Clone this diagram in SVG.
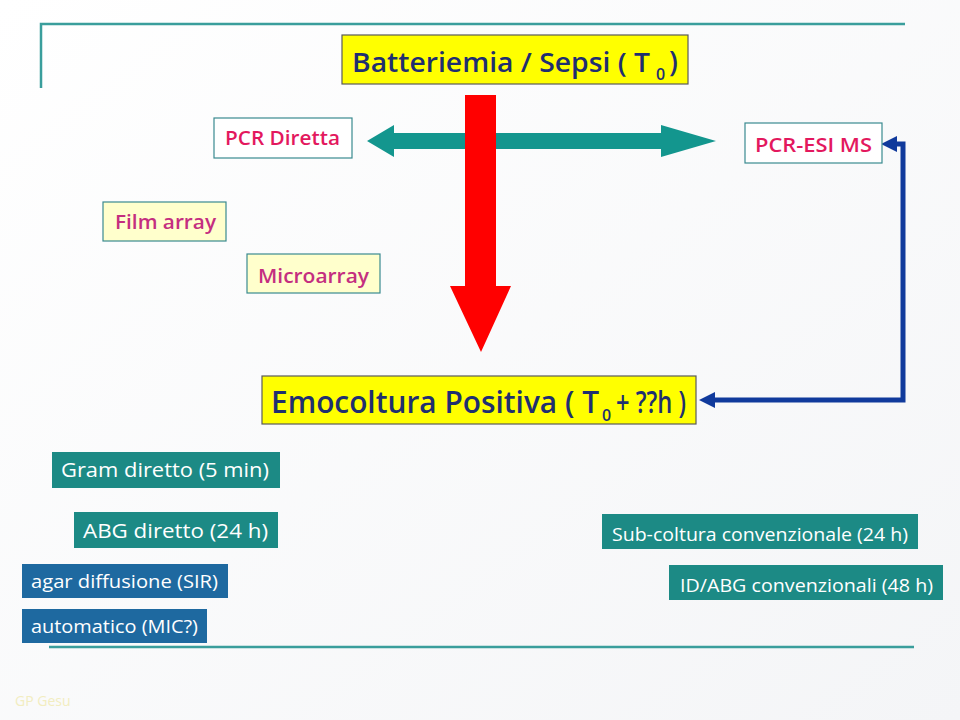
<svg xmlns="http://www.w3.org/2000/svg" width="960" height="720" viewBox="0 0 960 720">
<defs>
<linearGradient id="bg" x1="0" y1="0" x2="1" y2="1">
<stop offset="0" stop-color="#ffffff"/>
<stop offset="1" stop-color="#f4f5f7"/>
</linearGradient>
<marker id="blueHead" viewBox="0 0 10 10" refX="0" refY="5" markerWidth="18" markerHeight="16" markerUnits="userSpaceOnUse" orient="auto-start-reverse">
<path d="M0,0 L10,5 L0,10 z" fill="#103a9c"/>
</marker>
</defs>
<style>
.title{font-family:"Open Sans","Liberation Sans",sans-serif;font-weight:600;fill:#1f2f70}
.ybox{fill:#ffff00;stroke:#5a5a5a;stroke-width:1.2}
.wbox{fill:#ffffff;stroke:#3a8a90;stroke-width:1.2}
.lybox{fill:#ffffcc;stroke:#3a8a90;stroke-width:1.2}
.pink{font-family:"Open Sans","Liberation Sans",sans-serif;font-weight:600;font-size:20px;fill:#e3185e}
.mag{font-family:"Open Sans","Liberation Sans",sans-serif;font-weight:600;font-size:20px;fill:#c42e80}
.tbox{fill:#1c8a85}
.bbox{fill:#1e69a0}
.wt{font-family:"Open Sans","Liberation Sans",sans-serif;font-weight:500;font-size:20px;fill:#ffffff}
.wts{font-family:"Open Sans","Liberation Sans",sans-serif;font-weight:500;font-size:18px;fill:#ffffff}
.rule{stroke:#3a9e9c;stroke-width:2.5;fill:none}
</style>
<rect width="960" height="720" fill="url(#bg)"/>
<g id="frame">
<path class="rule" d="M41,88 V24 H905"/>
<line class="rule" x1="49" y1="647" x2="914" y2="647"/>
<text x="15" y="706" font-family="Open Sans, Liberation Sans, sans-serif" font-size="14" fill="#f2edc0">GP Gesu</text>
</g>
<g id="connectors">
<polygon id="teal-double-arrow" fill="#13968e" points="367,141 394,125 394,133 661,133 661,125 716,141 661,157 661,149 394,149 394,157"/>
<polygon id="red-arrow" fill="#ff0000" points="465,95 496,95 496,286 511,286 481,352 450,286 465,286"/>
<path id="blue-connector" d="M897,144 H903 V400 H715" fill="none" stroke="#103a9c" stroke-width="5" marker-start="url(#blueHead)" marker-end="url(#blueHead)"/>
</g>
<g id="node-batteriemia">
<rect class="ybox" x="342" y="35" width="346" height="49"/>
<text class="title" x="352" y="72" font-size="27" textLength="298" lengthAdjust="spacingAndGlyphs">Batteriemia / Sepsi ( T</text>
<text class="title" x="656" y="80" font-size="16">0</text>
<text class="title" x="669" y="72" font-size="28">)</text>
</g>
<g id="node-pcr-diretta">
<rect class="wbox" x="214" y="118" width="138" height="40"/>
<text class="pink" x="225" y="145" textLength="115" lengthAdjust="spacingAndGlyphs">PCR Diretta</text>
</g>
<g id="node-pcr-esi">
<rect class="wbox" x="745" y="123" width="137" height="40"/>
<text class="pink" x="755" y="152" textLength="117" lengthAdjust="spacingAndGlyphs">PCR-ESI MS</text>
</g>
<g id="node-film-array">
<rect class="lybox" x="103" y="202" width="123" height="39"/>
<text class="mag" x="115" y="229" textLength="101" lengthAdjust="spacingAndGlyphs">Film array</text>
</g>
<g id="node-microarray">
<rect class="lybox" x="247" y="254" width="133" height="39"/>
<text class="mag" x="258" y="283" textLength="111" lengthAdjust="spacingAndGlyphs">Microarray</text>
</g>
<g id="node-emocoltura">
<rect class="ybox" x="262" y="376" width="434" height="48"/>
<text class="title" x="271" y="413" font-size="30" textLength="328" lengthAdjust="spacingAndGlyphs">Emocoltura Positiva ( T</text>
<text class="title" x="602" y="421" font-size="16">0</text>
<text class="title" x="616" y="413" font-size="30" textLength="70" lengthAdjust="spacingAndGlyphs">+ ??h )</text>
</g>
<g id="node-gram">
<rect class="tbox" x="52" y="452" width="228" height="36"/>
<text class="wt" x="61" y="477" textLength="208" lengthAdjust="spacingAndGlyphs">Gram diretto (5 min)</text>
</g>
<g id="node-abg-diretto">
<rect class="tbox" x="74" y="512" width="204" height="36"/>
<text class="wt" x="83" y="538" textLength="185" lengthAdjust="spacingAndGlyphs">ABG diretto (24 h)</text>
</g>
<g id="node-agar">
<rect class="bbox" x="22" y="564" width="206" height="34"/>
<text class="wts" x="31" y="588" textLength="187" lengthAdjust="spacingAndGlyphs">agar diffusione (SIR)</text>
</g>
<g id="node-automatico">
<rect class="bbox" x="22" y="609" width="185" height="34"/>
<text class="wts" x="31" y="633" textLength="167" lengthAdjust="spacingAndGlyphs">automatico (MIC?)</text>
</g>
<g id="node-subcoltura">
<rect class="tbox" x="602" y="514" width="316" height="35"/>
<text class="wts" x="612" y="541" textLength="296" lengthAdjust="spacingAndGlyphs">Sub-coltura convenzionale (24 h)</text>
</g>
<g id="node-id-abg">
<rect class="tbox" x="669" y="565" width="274" height="35"/>
<text class="wts" x="680" y="592" textLength="253" lengthAdjust="spacingAndGlyphs">ID/ABG convenzionali (48 h)</text>
</g>
</svg>
